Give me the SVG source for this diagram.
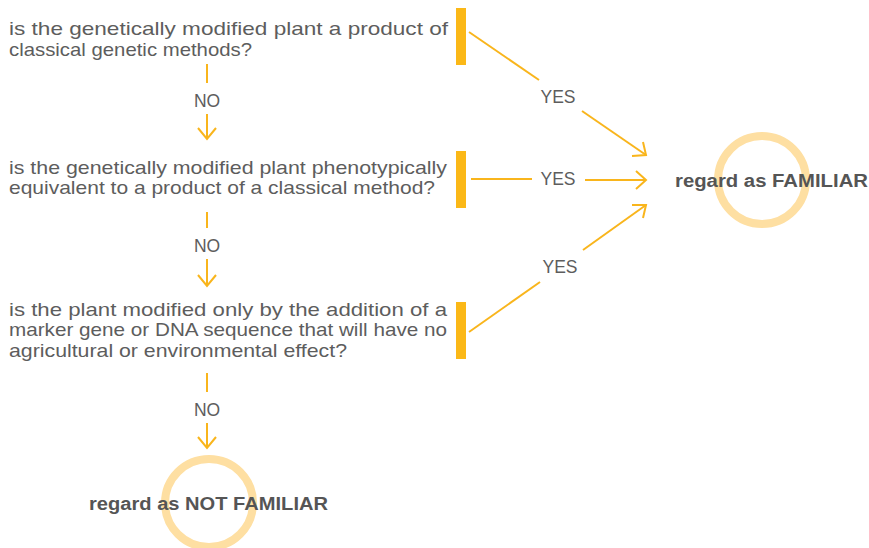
<svg xmlns="http://www.w3.org/2000/svg" width="869" height="548" viewBox="0 0 869 548">
<defs>
<style>
.q{font-family:"Liberation Sans",Arial,sans-serif;font-size:17.8px;fill:#5d5d5d}
.lbl{font-family:"Liberation Sans",Arial,sans-serif;font-size:17.5px;fill:#5d5d5d;text-anchor:middle}
.res{font-family:"Liberation Sans",Arial,sans-serif;font-size:17.5px;font-weight:bold;fill:#555555}
.ln{stroke:#f9b51c;stroke-width:2;fill:none}
.bar{fill:#fbb817}
.ring{fill:none;stroke:#fedfa2;stroke-width:8}
</style>
</defs>
<rect width="869" height="548" fill="#ffffff"/>

<g id="q1">
<rect class="bar" x="456" y="8" width="10" height="57"/>
<text class="q" x="9" y="35" textLength="439" lengthAdjust="spacingAndGlyphs">is the genetically modified plant a product of</text>
<text class="q" x="9" y="56" textLength="243" lengthAdjust="spacingAndGlyphs">classical genetic methods?</text>
</g>

<g id="q2">
<rect class="bar" x="456" y="151" width="10" height="57"/>
<text class="q" x="9" y="174" textLength="438" lengthAdjust="spacingAndGlyphs">is the genetically modified plant phenotypically</text>
<text class="q" x="9" y="194" textLength="426" lengthAdjust="spacingAndGlyphs">equivalent to a product of a classical method?</text>
</g>

<g id="q3">
<rect class="bar" x="456" y="302" width="10" height="57"/>
<text class="q" x="9" y="316" textLength="438" lengthAdjust="spacingAndGlyphs">is the plant modified only by the addition of a</text>
<text class="q" x="9" y="336" textLength="438" lengthAdjust="spacingAndGlyphs">marker gene or DNA sequence that will have no</text>
<text class="q" x="9" y="357" textLength="338" lengthAdjust="spacingAndGlyphs">agricultural or environmental effect?</text>
</g>

<g id="familiar">
<circle class="ring" cx="762" cy="180" r="44"/>
<text class="res" x="675" y="187" textLength="193" lengthAdjust="spacingAndGlyphs">regard as FAMILIAR</text>
</g>

<g id="notfamiliar">
<circle class="ring" cx="209" cy="503" r="44"/>
<text class="res" x="89" y="510" textLength="239" lengthAdjust="spacingAndGlyphs">regard as NOT FAMILIAR</text>
</g>

<g id="connectors">
<line class="ln" x1="207" y1="64" x2="207" y2="83"/>
<text class="lbl" x="207" y="107">NO</text>
<line class="ln" x1="207" y1="114" x2="207" y2="139"/>
<polyline class="ln" points="198,128 207,139 216,128"/>

<line class="ln" x1="207" y1="212" x2="207" y2="228"/>
<text class="lbl" x="207" y="252">NO</text>
<line class="ln" x1="207" y1="259" x2="207" y2="286"/>
<polyline class="ln" points="198,275 207,286 216,275"/>

<line class="ln" x1="207" y1="373" x2="207" y2="392"/>
<text class="lbl" x="207" y="416">NO</text>
<line class="ln" x1="207" y1="423" x2="207" y2="448"/>
<polyline class="ln" points="198,437 207,448 216,437"/>

<line class="ln" x1="469" y1="32" x2="539" y2="80"/>
<text class="lbl" x="558" y="103">YES</text>
<line class="ln" x1="582" y1="111" x2="646" y2="155"/>
<polyline class="ln" points="632,156 646,155 643,142"/>

<line class="ln" x1="471" y1="179" x2="532" y2="179"/>
<text class="lbl" x="558" y="185">YES</text>
<line class="ln" x1="585" y1="180" x2="646" y2="180"/>
<polyline class="ln" points="636,171 646,180 636,189"/>

<line class="ln" x1="469" y1="332" x2="540" y2="282"/>
<text class="lbl" x="560" y="273">YES</text>
<line class="ln" x1="583" y1="250" x2="646" y2="205"/>
<polyline class="ln" points="643,218 646,205 632,205"/>
</g>
</svg>
